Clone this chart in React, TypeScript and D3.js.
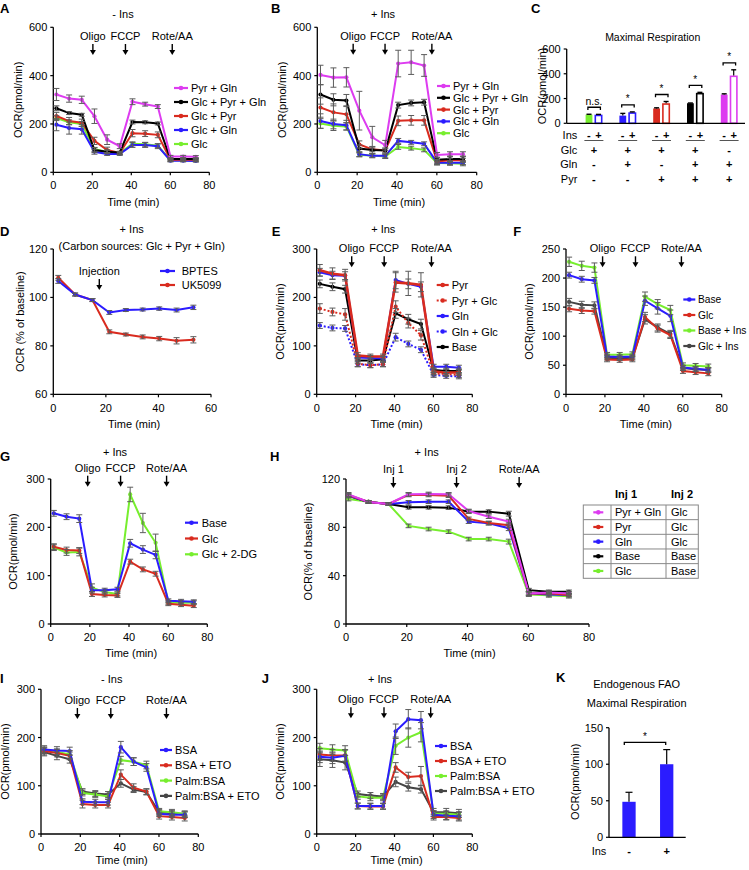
import React from 'react';
import * as d3 from 'd3';

const FONT = '"Liberation Sans", Arial, Helvetica, sans-serif';
const FS = 11;
const ERR_COLOR = '#5c5c5c';
const C_MAG = '#dd3cf0';
const C_BLK = '#000000';
const C_RED = '#d92b1f';
const C_BLU = '#2b1cff';
const C_GRN = '#77ee2e';
const C_DRK = '#454545';

// ---------- time points ----------
const TIMES = [1.6, 8.1, 14.6, 21.1, 27.6, 34.1, 40.6, 47.1, 53.6, 60.1, 66.6, 73.1];
const TIMES_D = [1.9, 8.3, 14.9, 21.3, 27.6, 34, 40.3, 46.9, 53.3];
const TIMES_H = [0.8, 7.4, 14, 20.6, 27.2, 33.8, 40.4, 47, 53.6, 60.2, 66.8, 73.4];
const X_TICKS_80 = [0, 20, 40, 60, 80];
const X_TICKS_60 = [0, 20, 40, 60];

// ---------- Panel A (- Ins) ----------
const A_PYRGLN = [322, 305, 300, 232, 135, 108, 292, 282, 272, 65, 65, 64];
const A_PYRGLN_ERR = [25, 15, 15, 30, 20, 10, 12, 8, 8, 5, 5, 5];
const A_GLCPYRGLN = [265, 245, 238, 92, 85, 82, 208, 207, 202, 55, 55, 55];
const A_GLCPYRGLN_ERR = [10, 6, 6, 10, 8, 5, 8, 6, 6, 5, 5, 5];
const A_GLCPYR = [233, 212, 205, 130, 92, 80, 162, 160, 155, 52, 52, 52];
const A_GLCPYR_ERR = [15, 15, 15, 15, 12, 6, 15, 12, 12, 5, 5, 5];
const A_GLCGLN = [197, 183, 178, 85, 76, 76, 113, 113, 108, 48, 48, 47];
const A_GLCGLN_ERR = [25, 25, 20, 10, 6, 6, 10, 10, 10, 5, 5, 5];
const A_GLC = [224, 207, 200, 95, 85, 80, 118, 116, 110, 50, 50, 50];
const A_GLC_ERR = [10, 10, 10, 8, 6, 6, 8, 8, 8, 5, 5, 5];

// ---------- Panel B (+ Ins) ----------
const B_PYRGLN = [403, 392, 393, 255, 145, 112, 450, 455, 442, 72, 75, 75];
const B_PYRGLN_ERR = [40, 40, 40, 80, 45, 20, 55, 50, 45, 10, 10, 10];
const B_GLCPYRGLN = [322, 300, 297, 98, 92, 90, 278, 287, 290, 52, 55, 55];
const B_GLCPYRGLN_ERR = [40, 25, 25, 15, 15, 10, 12, 12, 12, 10, 12, 12];
const B_GLCPYR = [268, 248, 240, 115, 95, 90, 213, 215, 215, 45, 50, 50];
const B_GLCPYR_ERR = [40, 35, 35, 15, 10, 10, 20, 20, 20, 8, 8, 8];
const B_GLCGLN = [212, 200, 195, 75, 68, 68, 130, 124, 118, 40, 40, 40];
const B_GLCGLN_ERR = [30, 20, 20, 10, 8, 8, 10, 8, 8, 8, 8, 8];
const B_GLC = [202, 193, 190, 72, 70, 65, 105, 100, 93, 38, 37, 35];
const B_GLC_ERR = [20, 20, 15, 8, 8, 8, 10, 8, 8, 8, 8, 8];

// ---------- Panel C (maximal respiration) ----------
const C_MINUS = [70, 62, 120, 162, 232];
const C_MINUS_ERR = [3, 18, 5, 2, 6];
const C_PLUS = [70, 89, 162, 246, 386];
const C_PLUS_ERR = [2, 3, 14, 4, 46];
const C_SIG = ['n.s.', '*', '*', '*', '*'];
const C_GLC = ['+', '+', '+', '+', '-'];
const C_GLN = ['-', '+', '-', '+', '+'];
const C_PYR = ['-', '-', '+', '+', '+'];
const C_Y_TICKS = [0, 200, 400, 600];

// ---------- Panel D ----------
const D_BPTES = [106.8, 101.2, 98.9, 93.8, 94.8, 95.0, 95.4, 94.8, 95.9];
const D_BPTES_ERR = [1, 0.6, 0.6, 0.8, 0.6, 0.6, 0.7, 0.8, 0.9];
const D_UK5099 = [108.1, 101.2, 98.9, 85.8, 84.7, 83.7, 83.0, 82.1, 82.5];
const D_UK5099_ERR = [1, 0.6, 0.6, 0.8, 0.6, 0.8, 0.9, 1.3, 1.3];

// ---------- Panel E ----------
const E_PYR = [256, 249, 246, 80, 78, 78, 231, 229, 226, 47, 45, 45];
const E_PYR_ERR = [12, 12, 12, 6, 5, 5, 20, 25, 25, 6, 6, 6];
const E_PYRGLC = [177, 170, 165, 63, 60, 62, 181, 147, 122, 43, 42, 40];
const E_PYRGLC_ERR = [10, 8, 12, 6, 5, 5, 12, 10, 10, 5, 5, 5];
const E_GLN = [252, 246, 245, 76, 75, 74, 236, 228, 222, 57, 57, 55];
const E_GLN_ERR = [8, 8, 8, 5, 5, 5, 18, 10, 10, 5, 5, 5];
const E_GLNGLC = [142, 137, 136, 62, 60, 62, 118, 104, 92, 40, 38, 37];
const E_GLNGLC_ERR = [6, 6, 6, 5, 5, 5, 8, 6, 6, 5, 5, 5];
const E_BASE = [228, 222, 217, 70, 70, 72, 167, 155, 145, 50, 48, 48];
const E_BASE_ERR = [8, 8, 8, 6, 6, 6, 10, 10, 10, 6, 6, 6];

// ---------- Panel F ----------
const F_BASE = [205, 198, 196, 65, 64, 65, 161, 148, 135, 46, 44, 42];
const F_BASE_ERR = [5, 5, 5, 4, 4, 4, 8, 10, 10, 4, 4, 4];
const F_GLC = [147, 144, 143, 60, 59, 60, 133, 113, 102, 40, 38, 36];
const F_GLC_ERR = [5, 5, 5, 4, 4, 4, 8, 6, 6, 4, 4, 4];
const F_BASEINS = [228, 221, 218, 68, 68, 69, 168, 155, 145, 50, 49, 48];
const F_BASEINS_ERR = [8, 8, 8, 4, 4, 4, 8, 8, 8, 4, 4, 4];
const F_GLCINS = [159, 154, 153, 63, 62, 63, 129, 115, 104, 45, 43, 42];
const F_GLCINS_ERR = [6, 6, 6, 4, 4, 4, 8, 6, 6, 4, 4, 4];

// ---------- Panel G ----------
const G_BASE = [229, 222, 218, 70, 70, 72, 167, 154, 143, 48, 47, 46];
const G_BASE_ERR = [6, 6, 8, 6, 4, 4, 8, 8, 8, 4, 4, 4];
const G_GLC = [160, 153, 152, 62, 60, 59, 129, 113, 104, 42, 40, 38];
const G_GLC_ERR = [6, 6, 6, 5, 4, 4, 5, 5, 5, 4, 4, 4];
const G_GLC2DG = [158, 148, 149, 75, 66, 62, 268, 209, 168, 45, 44, 44];
const G_GLC2DG_ERR = [6, 6, 8, 8, 4, 4, 15, 20, 18, 4, 4, 4];

// ---------- Panel H ----------
const H_PYRGLN = [107.3, 101, 99.3, 107.3, 107.6, 107.3, 93.5, 88.8, 84.7, 25.3, 26, 25.3];
const H_PYR = [106.8, 101, 99.3, 106.8, 106.8, 106.2, 87, 83.6, 81.7, 25.3, 25.5, 24];
const H_GLN = [106, 101, 99.3, 100.7, 101.2, 101.2, 84.7, 83.4, 79.3, 25.5, 24.5, 24];
const H_BASE = [106, 101, 99.3, 96.6, 96.6, 96.3, 93, 93, 91.3, 28, 26.6, 26.6];
const H_GLC = [103.4, 101.2, 99.3, 81.2, 78.6, 76.4, 70.3, 70.3, 68.2, 24.3, 23.7, 23];
const H_ERR = [1.5, 1, 1, 1.5, 1.5, 1.5, 1.5, 1.5, 2, 1.5, 1.5, 1.5];
const H_INJ1 = ['Pyr + Gln', 'Pyr', 'Gln', 'Base', 'Glc'];
const H_INJ2 = ['Glc', 'Glc', 'Glc', 'Base', 'Base'];

// ---------- Panel I ----------
const I_BSA = [175, 173, 172, 67, 66, 66, 180, 150, 138, 42, 40, 40];
const I_BSA_ERR = [8, 8, 8, 6, 6, 6, 12, 8, 8, 6, 6, 6];
const I_BSAETO = [172, 168, 162, 62, 60, 60, 123, 96, 88, 37, 35, 33];
const I_BSAETO_ERR = [8, 8, 8, 8, 6, 6, 10, 8, 6, 6, 6, 6];
const I_PALM = [174, 170, 165, 85, 82, 78, 153, 150, 143, 47, 45, 42];
const I_PALM_ERR = [6, 6, 8, 6, 6, 6, 8, 8, 8, 6, 6, 6];
const I_PALMETO = [170, 162, 155, 88, 84, 82, 105, 92, 87, 45, 43, 40];
const I_PALMETO_ERR = [8, 8, 8, 6, 6, 6, 8, 6, 6, 6, 6, 6];

// ---------- Panel J ----------
const J_BSA = [160, 158, 162, 58, 58, 58, 213, 238, 236, 40, 38, 37];
const J_BSA_ERR = [12, 12, 12, 6, 6, 6, 15, 20, 18, 8, 8, 8];
const J_BSAETO = [165, 163, 163, 58, 57, 57, 138, 118, 120, 35, 35, 33];
const J_BSAETO_ERR = [12, 12, 12, 6, 6, 6, 10, 10, 20, 6, 6, 6];
const J_PALM = [178, 175, 173, 78, 75, 75, 183, 200, 211, 42, 42, 40];
const J_PALM_ERR = [10, 10, 10, 6, 6, 6, 18, 20, 20, 6, 6, 6];
const J_PALMETO = [155, 153, 148, 83, 80, 78, 108, 97, 93, 45, 45, 43];
const J_PALMETO_ERR = [15, 15, 15, 6, 6, 6, 10, 8, 8, 8, 8, 8];

// ---------- Panel K ----------
const K_LABELS = ['-', '+'];
const K_VALUES = [48.6, 100];
const K_ERR = [13, 20];
const K_Y_TICKS = [0, 50, 100, 150];

type Series = { name: string; color: string; values: number[]; errs: number[]; dashed?: boolean; width?: number };
type Cfg = {
  key: string;
  x0: number; x1: number; yTop: number; yBot: number;
  xDomain: [number, number]; yDomain: [number, number];
  xTicks: number[]; yTicks: number[];
  times: number[];
  series: Series[];
  arrows: { label: string; t: number }[];
  arrowY: number;
  legend?: { x: number; w: number; tx: number; y0: number; dy: number; fs?: number };
  titles: { text: string; x: number; y: number }[];
  letter: { text: string; x: number; y: number };
  ylabel: { text: string; x: number };
  xlabelY: number;
  tickY: number;
};

function ArrowMark({ x, y }: { x: number; y: number }) {
  return (
    <g>
      <line x1={x} x2={x} y1={y} y2={y + 7} stroke="#000" strokeWidth={1.4} />
      <path d={`M${x - 3},${y + 6} L${x + 3},${y + 6} L${x},${y + 11} Z`} fill="#000" />
    </g>
  );
}

function LinePanel({ cfg }: { cfg: Cfg }) {
  const xs = d3.scaleLinear().domain(cfg.xDomain).range([cfg.x0, cfg.x1]);
  const ys = d3.scaleLinear().domain(cfg.yDomain).range([cfg.yBot, cfg.yTop]);
  const line = d3.line<number>().x((_, i) => xs(cfg.times[i])).y((v) => ys(v));
  const order = [...cfg.series].reverse();
  return (
    <g fontFamily={FONT} fontSize={FS}>
      <text x={cfg.letter.x} y={cfg.letter.y} fontWeight="bold" fontSize={13} dominantBaseline="central">{cfg.letter.text}</text>
      {cfg.titles.map((t) => (
        <text key={t.text} x={t.x} y={t.y} textAnchor="middle" dominantBaseline="central">{t.text}</text>
      ))}
      <line x1={cfg.x0} x2={cfg.x0} y1={cfg.yTop} y2={cfg.yBot} stroke="#000" strokeWidth={1.3} />
      <line x1={cfg.x0} x2={cfg.x1} y1={cfg.yBot} y2={cfg.yBot} stroke="#000" strokeWidth={1.3} />
      {cfg.yTicks.map((t) => (
        <g key={'y' + t}>
          <line x1={cfg.x0 - 3} x2={cfg.x0} y1={ys(t)} y2={ys(t)} stroke="#000" strokeWidth={1.2} />
          <text x={cfg.x0 - 6} y={ys(t)} textAnchor="end" dominantBaseline="central">{t}</text>
        </g>
      ))}
      {cfg.xTicks.map((t) => (
        <g key={'x' + t}>
          <line x1={xs(t)} x2={xs(t)} y1={cfg.yBot} y2={cfg.yBot + 3} stroke="#000" strokeWidth={1.2} />
          <text x={xs(t)} y={cfg.tickY} textAnchor="middle" dominantBaseline="central">{t}</text>
        </g>
      ))}
      <text transform={`translate(${cfg.ylabel.x},${(cfg.yTop + cfg.yBot) / 2}) rotate(-90)`} textAnchor="middle" dominantBaseline="central">{cfg.ylabel.text}</text>
      <text x={(cfg.x0 + cfg.x1) / 2 + 2} y={cfg.xlabelY} textAnchor="middle" dominantBaseline="central">Time (min)</text>
      {order.map((s) => (
        <g key={s.name}>
          <path d={line(s.values) || ''} fill="none" stroke={s.color} strokeWidth={s.width ?? 2}
            strokeDasharray={s.dashed ? '2,2' : undefined} />
          {s.values.map((v, i) => (
            <circle key={i} cx={xs(cfg.times[i])} cy={ys(v)} r={2.1} fill={s.color} />
          ))}
        </g>
      ))}
      {order.map((s) => (
        <g key={'e' + s.name} stroke={ERR_COLOR} strokeWidth={1}>
          {s.values.map((v, i) => {
            const x = xs(cfg.times[i]);
            const y1 = ys(v - s.errs[i]);
            const y2 = ys(v + s.errs[i]);
            return (
              <g key={i}>
                <line x1={x} x2={x} y1={y1} y2={y2} />
                <line x1={x - 3} x2={x + 3} y1={y1} y2={y1} />
                <line x1={x - 3} x2={x + 3} y1={y2} y2={y2} />
              </g>
            );
          })}
        </g>
      ))}
      {cfg.arrows.map((a) => (
        <g key={a.label}>
          <text x={xs(a.t)} y={cfg.arrowY} textAnchor="middle" dominantBaseline="central">{a.label}</text>
          <ArrowMark x={xs(a.t)} y={cfg.arrowY + 8} />
        </g>
      ))}
      {cfg.legend && cfg.series.map((s, i) => {
        const lg = cfg.legend!;
        const y = lg.y0 + i * lg.dy;
        return (
          <g key={'l' + s.name}>
            <line x1={lg.x} x2={lg.x + lg.w} y1={y} y2={y} stroke={s.color} strokeWidth={2.2}
              strokeDasharray={s.dashed ? '2,2' : undefined} />
            <circle cx={lg.x + lg.w / 2} cy={y} r={2.3} fill={s.color} />
            <text x={lg.tx} y={y} dominantBaseline="central" fontSize={lg.fs ?? FS}>{s.name}</text>
          </g>
        );
      })}
    </g>
  );
}

const ARROWS_STD = (o: number, f: number, r: number) => [
  { label: 'Oligo', t: o },
  { label: 'FCCP', t: f },
  { label: 'Rote/AA', t: r },
];

const PANELS: Cfg[] = [
  {
    key: 'A', x0: 53.3, x1: 209.3, yTop: 27.3, yBot: 172.3, xDomain: [0, 80], yDomain: [0, 600],
    xTicks: X_TICKS_80, yTicks: [0, 200, 400, 600], times: TIMES,
    series: [
      { name: 'Pyr + Gln', color: C_MAG, values: A_PYRGLN, errs: A_PYRGLN_ERR },
      { name: 'Glc + Pyr + Gln', color: C_BLK, values: A_GLCPYRGLN, errs: A_GLCPYRGLN_ERR },
      { name: 'Glc + Pyr', color: C_RED, values: A_GLCPYR, errs: A_GLCPYR_ERR },
      { name: 'Glc + Gln', color: C_BLU, values: A_GLCGLN, errs: A_GLCGLN_ERR },
      { name: 'Glc', color: C_GRN, values: A_GLC, errs: A_GLC_ERR },
    ],
    arrows: ARROWS_STD(20.3, 37, 61), arrowY: 36,
    legend: { x: 174, w: 14, tx: 191, y0: 88, dy: 14 },
    titles: [{ text: '- Ins', x: 123, y: 14 }], letter: { text: 'A', x: 0, y: 8.5 },
    ylabel: { text: 'OCR(pmol/min)', x: 18.3 }, xlabelY: 202, tickY: 185,
  },
  {
    key: 'B', x0: 317.3, x1: 476.7, yTop: 27.3, yBot: 172.3, xDomain: [0, 80], yDomain: [0, 600],
    xTicks: X_TICKS_80, yTicks: [0, 200, 400, 600], times: TIMES,
    series: [
      { name: 'Pyr + Gln', color: C_MAG, values: B_PYRGLN, errs: B_PYRGLN_ERR },
      { name: 'Glc + Pyr + Gln', color: C_BLK, values: B_GLCPYRGLN, errs: B_GLCPYRGLN_ERR },
      { name: 'Glc + Pyr', color: C_RED, values: B_GLCPYR, errs: B_GLCPYR_ERR },
      { name: 'Glc + Gln', color: C_BLU, values: B_GLCGLN, errs: B_GLCGLN_ERR },
      { name: 'Glc', color: C_GRN, values: B_GLC, errs: B_GLC_ERR },
    ],
    arrows: ARROWS_STD(18, 34, 57.5), arrowY: 35.7,
    legend: { x: 437, w: 13, tx: 453, y0: 86, dy: 11.8 },
    titles: [{ text: '+ Ins', x: 383, y: 14 }], letter: { text: 'B', x: 271, y: 8.5 },
    ylabel: { text: 'OCR(pmol/min)', x: 281.7 }, xlabelY: 202, tickY: 185,
  },
  {
    key: 'D', x0: 53.3, x1: 211, yTop: 249, yBot: 394.3, xDomain: [0, 60], yDomain: [60, 120],
    xTicks: X_TICKS_60, yTicks: [60, 80, 100, 120], times: TIMES_D,
    series: [
      { name: 'BPTES', color: C_BLU, values: D_BPTES, errs: D_BPTES_ERR },
      { name: 'UK5099', color: C_RED, values: D_UK5099, errs: D_UK5099_ERR },
    ],
    arrows: [{ label: 'Injection', t: 17.5 }], arrowY: 271,
    legend: { x: 160, w: 15, tx: 181.7, y0: 271, dy: 14 },
    titles: [
      { text: '+ Ins', x: 131.7, y: 229.3 },
      { text: '(Carbon sources: Glc + Pyr + Gln)', x: 141.7, y: 245.7 },
    ],
    letter: { text: 'D', x: 0, y: 231.7 },
    ylabel: { text: 'OCR (% of baseline)', x: 20 }, xlabelY: 424.3, tickY: 407.7,
  },
  {
    key: 'E', x0: 316.7, x1: 472.3, yTop: 249, yBot: 394.3, xDomain: [0, 80], yDomain: [0, 300],
    xTicks: X_TICKS_80, yTicks: [0, 100, 200, 300], times: TIMES,
    series: [
      { name: 'Pyr', color: C_RED, values: E_PYR, errs: E_PYR_ERR, width: 2.6 },
      { name: 'Pyr + Glc', color: C_RED, values: E_PYRGLC, errs: E_PYRGLC_ERR, dashed: true },
      { name: 'Gln', color: C_BLU, values: E_GLN, errs: E_GLN_ERR },
      { name: 'Gln + Glc', color: C_BLU, values: E_GLNGLC, errs: E_GLNGLC_ERR, dashed: true },
      { name: 'Base', color: C_BLK, values: E_BASE, errs: E_BASE_ERR },
    ],
    arrows: ARROWS_STD(18, 34.7, 59), arrowY: 248.3,
    legend: { x: 436.7, w: 12, tx: 451.7, y0: 285, dy: 15.5 },
    titles: [{ text: '+ Ins', x: 383.3, y: 229.3 }], letter: { text: 'E', x: 271.7, y: 231.7 },
    ylabel: { text: 'OCR(pmol/min)', x: 280 }, xlabelY: 424.3, tickY: 407.7,
  },
  {
    key: 'F', x0: 566, x1: 721.7, yTop: 249, yBot: 394.3, xDomain: [0, 80], yDomain: [0, 250],
    xTicks: X_TICKS_80, yTicks: [0, 50, 100, 150, 200, 250], times: TIMES,
    series: [
      { name: 'Base', color: C_BLU, values: F_BASE, errs: F_BASE_ERR },
      { name: 'Glc', color: C_RED, values: F_GLC, errs: F_GLC_ERR },
      { name: 'Base + Ins', color: C_GRN, values: F_BASEINS, errs: F_BASEINS_ERR },
      { name: 'Glc + Ins', color: C_DRK, values: F_GLCINS, errs: F_GLCINS_ERR },
    ],
    arrows: ARROWS_STD(18.8, 35.7, 59.3), arrowY: 248.3,
    legend: { x: 683.3, w: 12, tx: 698, y0: 299.5, dy: 15.5, fs: 10.2 },
    titles: [], letter: { text: 'F', x: 513.3, y: 231.7 },
    ylabel: { text: 'OCR(pmol/min)', x: 529.3 }, xlabelY: 424.3, tickY: 407.7,
  },
  {
    key: 'G', x0: 50.7, x1: 207.3, yTop: 479, yBot: 624, xDomain: [0, 80], yDomain: [0, 300],
    xTicks: X_TICKS_80, yTicks: [0, 100, 200, 300], times: TIMES,
    series: [
      { name: 'Base', color: C_BLU, values: G_BASE, errs: G_BASE_ERR },
      { name: 'Glc', color: C_RED, values: G_GLC, errs: G_GLC_ERR },
      { name: 'Glc + 2-DG', color: C_GRN, values: G_GLC2DG, errs: G_GLC2DG_ERR },
    ],
    arrows: ARROWS_STD(18.9, 35.7, 59.2), arrowY: 467.7,
    legend: { x: 185, w: 13, tx: 201.7, y0: 522.7, dy: 15.8 },
    titles: [{ text: '+ Ins', x: 115, y: 451.7 }], letter: { text: 'G', x: 0, y: 456.7 },
    ylabel: { text: 'OCR(pmol/min)', x: 13.3 }, xlabelY: 653.3, tickY: 636.7,
  },
  {
    key: 'H', x0: 346, x1: 589, yTop: 479, yBot: 624, xDomain: [0, 80], yDomain: [0, 120],
    xTicks: X_TICKS_80, yTicks: [0, 40, 80, 120], times: TIMES_H,
    series: [
      { name: 'Pyr + Gln', color: C_MAG, values: H_PYRGLN, errs: H_ERR },
      { name: 'Pyr', color: C_RED, values: H_PYR, errs: H_ERR },
      { name: 'Gln', color: C_BLU, values: H_GLN, errs: H_ERR },
      { name: 'Base', color: C_BLK, values: H_BASE, errs: H_ERR },
      { name: 'Glc', color: C_GRN, values: H_GLC, errs: H_ERR },
    ],
    arrows: [
      { label: 'Inj 1', t: 15.6 },
      { label: 'Inj 2', t: 36.4 },
      { label: 'Rote/AA', t: 57 },
    ],
    arrowY: 469,
    titles: [{ text: '+ Ins', x: 426.7, y: 451.7 }], letter: { text: 'H', x: 270, y: 456.7 },
    ylabel: { text: 'OCR(% of baseline)', x: 308.3 }, xlabelY: 653.3, tickY: 636.7,
  },
  {
    key: 'I', x0: 41, x1: 198.3, yTop: 689.3, yBot: 834, xDomain: [0, 80], yDomain: [0, 300],
    xTicks: X_TICKS_80, yTicks: [0, 100, 200, 300], times: TIMES,
    series: [
      { name: 'BSA', color: C_BLU, values: I_BSA, errs: I_BSA_ERR },
      { name: 'BSA + ETO', color: C_RED, values: I_BSAETO, errs: I_BSAETO_ERR },
      { name: 'Palm:BSA', color: C_GRN, values: I_PALM, errs: I_PALM_ERR },
      { name: 'Palm:BSA + ETO', color: C_DRK, values: I_PALMETO, errs: I_PALMETO_ERR },
    ],
    arrows: ARROWS_STD(18.5, 35.5, 63.8), arrowY: 700,
    legend: { x: 160, w: 12, tx: 175, y0: 750, dy: 15.3 },
    titles: [{ text: '- Ins', x: 111.7, y: 679.3 }], letter: { text: 'I', x: 0, y: 678 },
    ylabel: { text: 'OCR(pmol/min)', x: 5 }, xlabelY: 860, tickY: 847.3,
  },
  {
    key: 'J', x0: 316.7, x1: 472.3, yTop: 689.3, yBot: 834, xDomain: [0, 80], yDomain: [0, 300],
    xTicks: X_TICKS_80, yTicks: [0, 100, 200, 300], times: TIMES,
    series: [
      { name: 'BSA', color: C_BLU, values: J_BSA, errs: J_BSA_ERR },
      { name: 'BSA + ETO', color: C_RED, values: J_BSAETO, errs: J_BSAETO_ERR },
      { name: 'Palm:BSA', color: C_GRN, values: J_PALM, errs: J_PALM_ERR },
      { name: 'Palm:BSA + ETO', color: C_DRK, values: J_PALMETO, errs: J_PALMETO_ERR },
    ],
    arrows: ARROWS_STD(17.6, 34.6, 58.6), arrowY: 699.3,
    legend: { x: 435, w: 12, tx: 450, y0: 746, dy: 15 },
    titles: [{ text: '+ Ins', x: 380, y: 679.3 }], letter: { text: 'J', x: 261.7, y: 678.3 },
    ylabel: { text: 'OCR(pmol/min)', x: 280 }, xlabelY: 860, tickY: 847.3,
  },
];

function HTable() {
  const colors = [C_MAG, C_RED, C_BLU, C_BLK, C_GRN];
  const rows = d3.scaleBand<number>().domain(d3.range(H_INJ1.length)).range([505, 578.3]);
  return (
    <g fontFamily={FONT} fontSize={FS}>
      <text x={615} y={494.3} fontWeight="bold" dominantBaseline="central">Inj 1</text>
      <text x={671} y={494.3} fontWeight="bold" dominantBaseline="central">Inj 2</text>
      <rect x={583.3} y={505} width={115} height={73.3} fill="none" stroke="#888" strokeWidth={1} />
      <line x1={611} x2={611} y1={505} y2={578.3} stroke="#888" />
      <line x1={666} x2={666} y1={505} y2={578.3} stroke="#888" />
      {H_INJ1.map((n, i) => {
        const y0 = rows(i)!;
        const yc = y0 + rows.bandwidth() / 2;
        return (
          <g key={i}>
            {i > 0 && <line x1={583.3} x2={698.3} y1={y0} y2={y0} stroke="#888" />}
            <line x1={593.3} x2={603.3} y1={yc} y2={yc} stroke={colors[i]} strokeWidth={2.2} />
            <circle cx={598.3} cy={yc} r={2.3} fill={colors[i]} />
            <text x={615} y={yc} dominantBaseline="central">{n}</text>
            <text x={671} y={yc} dominantBaseline="central">{H_INJ2[i]}</text>
          </g>
        );
      })}
    </g>
  );
}

function PanelC() {
  const fills = [C_GRN, C_BLU, C_RED, C_BLK, C_MAG];
  const outlines = [C_BLU, C_BLU, C_RED, C_BLK, C_MAG];
  const x = d3.scaleBand<number>().domain(d3.range(C_MINUS.length)).range([577, 746]);
  const y = d3.scaleLinear().domain([0, 600]).range([123.3, 49]);
  const rowsY = [150, 164.3, 179.3];
  const rowNames = ['Glc', 'Gln', 'Pyr'];
  const rowVals = [C_GLC, C_GLN, C_PYR];
  return (
    <g fontFamily={FONT} fontSize={FS}>
      <text x={531} y={8.5} fontWeight="bold" fontSize={13} dominantBaseline="central">C</text>
      <text x={652.7} y={37} textAnchor="middle" dominantBaseline="central" fontSize={10.5}>Maximal Respiration</text>
      <text transform={`translate(541.7,86) rotate(-90)`} textAnchor="middle" dominantBaseline="central">OCR(pmol/min)</text>
      {C_Y_TICKS.map((t) => (
        <g key={t}>
          <line x1={563.7} x2={566.7} y1={y(t)} y2={y(t)} stroke="#000" strokeWidth={1.2} />
          <text x={560.7} y={y(t)} textAnchor="end" dominantBaseline="central">{t}</text>
        </g>
      ))}
      {C_MINUS.map((m, i) => {
        const c = x(i)! + x.bandwidth() / 2;
        const p = C_PLUS[i];
        const top = Math.min(y(m + C_MINUS_ERR[i]), y(p + C_PLUS_ERR[i]));
        const by = top - 7;
        return (
          <g key={i}>
            <rect x={c - 8.3} y={y(m)} width={6.8} height={y(0) - y(m)} fill={fills[i]} />
            <line x1={c - 4.9} x2={c - 4.9} y1={y(m)} y2={y(m + C_MINUS_ERR[i])} stroke="#000" strokeWidth={1.2} />
            <line x1={c - 7.4} x2={c - 2.4} y1={y(m + C_MINUS_ERR[i])} y2={y(m + C_MINUS_ERR[i])} stroke="#000" strokeWidth={1.4} />
            <rect x={c + 1.4} y={y(p) + 0.8} width={6.4} height={y(0) - y(p) - 0.8} fill="#fff" stroke={outlines[i]} strokeWidth={1.6} />
            <line x1={c + 4.6} x2={c + 4.6} y1={y(p)} y2={y(p + C_PLUS_ERR[i])} stroke="#000" strokeWidth={1.2} />
            <line x1={c + 2.1} x2={c + 7.1} y1={y(p + C_PLUS_ERR[i])} y2={y(p + C_PLUS_ERR[i])} stroke="#000" strokeWidth={1.4} />
            <path d={`M${c - 6},${by + 2.7} V${by} H${c + 6.5} V${by + 2.7}`} fill="none" stroke="#000" strokeWidth={1.3} />
            <text x={c} y={by - 6} textAnchor="middle" dominantBaseline="central" fontSize={C_SIG[i] === '*' ? 10 : 10.5}>{C_SIG[i]}</text>
            <text x={c - 5} y={135} textAnchor="middle" dominantBaseline="central" fontWeight="bold">-</text>
            <text x={c + 4.6} y={135} textAnchor="middle" dominantBaseline="central" fontWeight="bold">+</text>
            <line x1={c - 9.5} x2={c + 9.5} y1={140.5} y2={140.5} stroke="#555" strokeWidth={1} />
            {rowVals.map((rv, r) => (
              <text key={r} x={c} y={rowsY[r]} textAnchor="middle" dominantBaseline="central" fontWeight="bold">{rv[i]}</text>
            ))}
          </g>
        );
      })}
      <line x1={566.7} x2={566.7} y1={49} y2={123.3} stroke="#000" strokeWidth={1.3} />
      <line x1={566.7} x2={745} y1={123.3} y2={123.3} stroke="#000" strokeWidth={1.3} />
      <text x={577.3} y={135} textAnchor="end" dominantBaseline="central">Ins</text>
      {rowNames.map((n, r) => (
        <text key={n} x={577.3} y={rowsY[r]} textAnchor="end" dominantBaseline="central">{n}</text>
      ))}
    </g>
  );
}

function PanelK() {
  const x = d3.scalePoint<string>().domain(K_LABELS).range([629, 666.7]);
  const y = d3.scaleLinear().domain([0, 150]).range([837.3, 727.7]);
  const bw = 13.3;
  return (
    <g fontFamily={FONT} fontSize={FS}>
      <text x={556} y={677.3} fontWeight="bold" fontSize={13} dominantBaseline="central">K</text>
      <text x={636.7} y={684} textAnchor="middle" dominantBaseline="central">Endogenous FAO</text>
      <text x={636.7} y={702.7} textAnchor="middle" dominantBaseline="central">Maximal Respiration</text>
      <text transform={`translate(575,781.7) rotate(-90)`} textAnchor="middle" dominantBaseline="central">OCR(pmol/min)</text>
      {K_Y_TICKS.map((t) => (
        <g key={t}>
          <line x1={606} x2={609} y1={y(t)} y2={y(t)} stroke="#000" strokeWidth={1.2} />
          <text x={603} y={y(t)} textAnchor="end" dominantBaseline="central">{t}</text>
        </g>
      ))}
      {K_LABELS.map((l, i) => {
        const c = x(l)!;
        const v = K_VALUES[i];
        const e = K_ERR[i];
        return (
          <g key={l}>
            <rect x={c - bw / 2} y={y(v)} width={bw} height={y(0) - y(v)} fill={C_BLU} />
            <line x1={c} x2={c} y1={y(v)} y2={y(v + e)} stroke="#000" strokeWidth={1.2} />
            <line x1={c - 3.5} x2={c + 3.5} y1={y(v + e)} y2={y(v + e)} stroke="#000" strokeWidth={1.2} />
            <text x={c} y={850.7} textAnchor="middle" dominantBaseline="central" fontWeight="bold">{l}</text>
          </g>
        );
      })}
      <path d={`M${x('-')! - 4.7},${745} V${742.3} H${x('+')! - 1} V${745}`} fill="none" stroke="#000" strokeWidth={1.3} />
      <text x={645} y={736} textAnchor="middle" dominantBaseline="central" fontSize={10}>*</text>
      <line x1={609} x2={609} y1={727.7} y2={837.3} stroke="#000" strokeWidth={1.3} />
      <line x1={609} x2={685.7} y1={837.3} y2={837.3} stroke="#000" strokeWidth={1.3} />
      <text x={599} y={850.7} textAnchor="middle" dominantBaseline="central">Ins</text>
    </g>
  );
}

export default function App() {
  return (
    <svg width={749} height={870} style={{ position: 'absolute', left: 0, top: 0, background: '#fff' }}>
      <rect x={0} y={0} width={749} height={870} fill="#fff" />
      {PANELS.map((p) => (
        <LinePanel key={p.key} cfg={p} />
      ))}
      <HTable />
      <PanelC />
      <PanelK />
    </svg>
  );
}
